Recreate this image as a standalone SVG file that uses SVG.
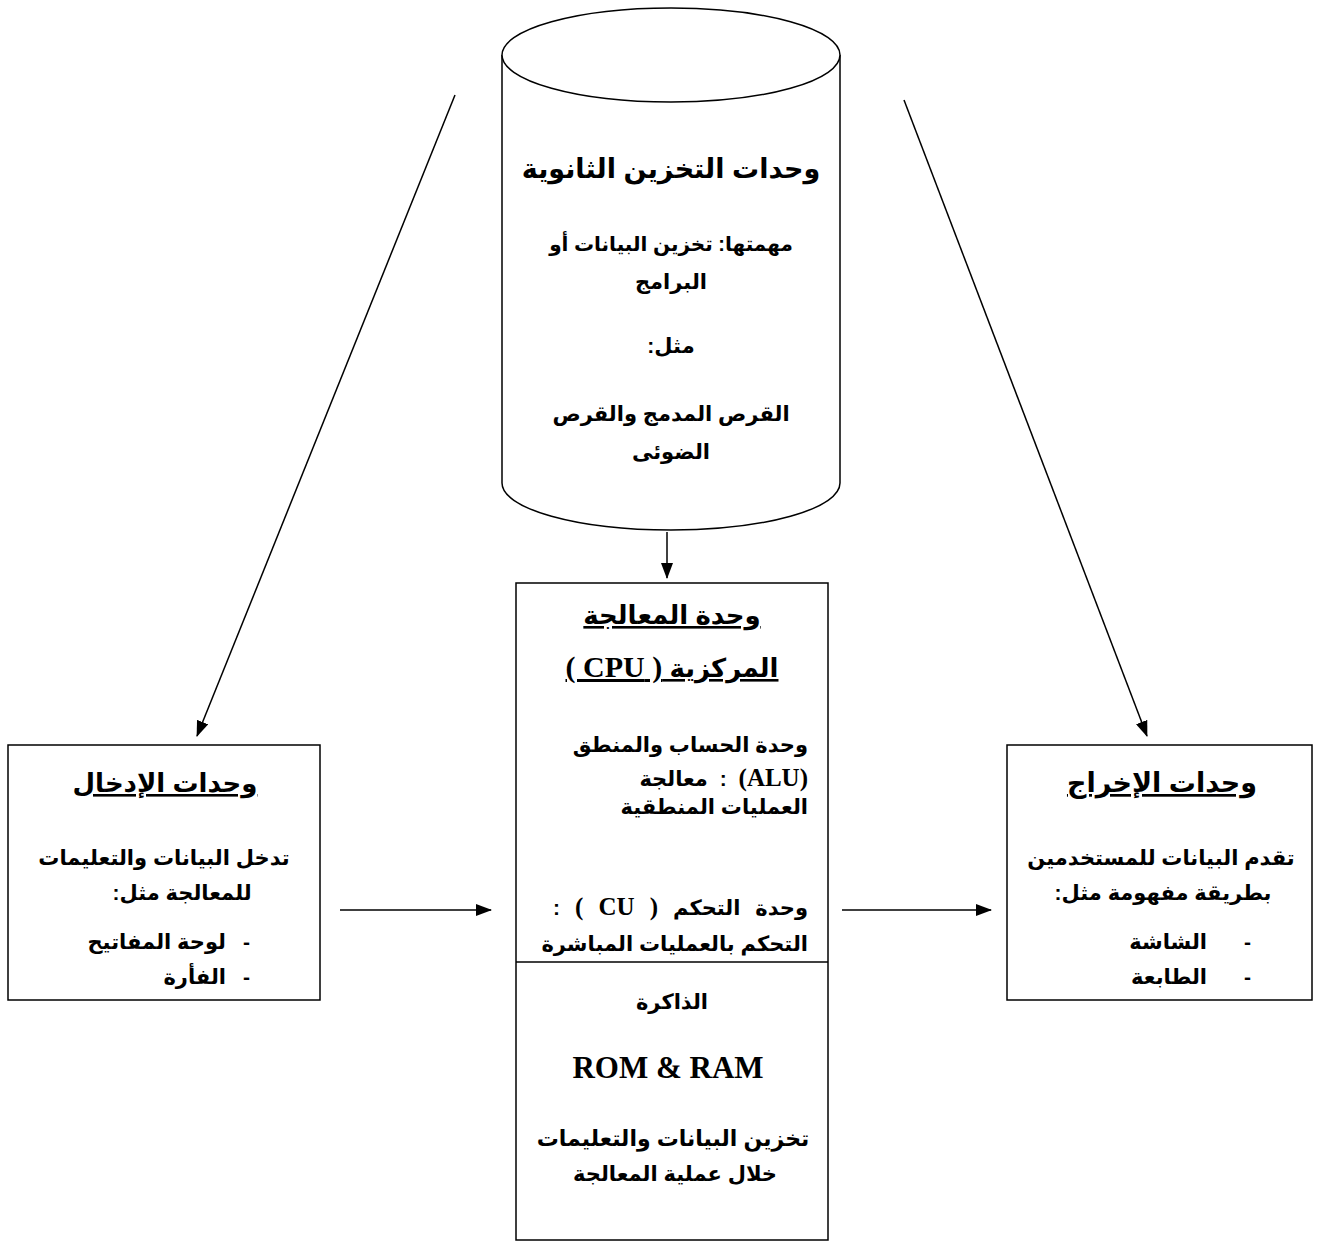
<svg xmlns="http://www.w3.org/2000/svg" width="1320" height="1244" viewBox="0 0 1320 1244">
<style>
.ar{font-family:"Liberation Sans","DejaVu Sans",sans-serif;font-weight:bold;fill:#000}
.t{font-size:26px}
.b{font-size:21px}
.lat{font-family:"Liberation Serif","DejaVu Serif",serif;font-weight:bold}
.sh{fill:#fff;stroke:#000;stroke-width:1.5}
.cn{stroke:#000;stroke-width:1.5;fill:none}
</style>
<defs>
<marker id="ah" markerWidth="16" markerHeight="12" refX="15" refY="6" orient="auto" markerUnits="userSpaceOnUse">
<path d="M0,0 L16,6 L0,12 Z" fill="#000"/>
</marker>
</defs>
<rect width="1320" height="1244" fill="#fff"/>
<g id="connectors">
<line class="cn" x1="455" y1="95" x2="197" y2="736" marker-end="url(#ah)"/>
<line class="cn" x1="904" y1="100" x2="1147" y2="736" marker-end="url(#ah)"/>
<line class="cn" x1="667" y1="532" x2="667" y2="578" marker-end="url(#ah)"/>
<line class="cn" x1="340" y1="910" x2="491" y2="910" marker-end="url(#ah)"/>
<line class="cn" x1="842" y1="910" x2="991" y2="910" marker-end="url(#ah)"/>
</g>
<g id="storage">
<path class="sh" d="M502,55 L502,483 A169,47 0 0 0 840,483 L840,55"/>
<ellipse class="sh" cx="671" cy="55" rx="169" ry="47"/>
<text class="ar" font-size="27" x="671" y="178" text-anchor="middle" direction="rtl">وحدات التخزين الثانوية</text>
<text class="ar" font-size="20" x="671" y="251" text-anchor="middle" direction="rtl">مهمتها: تخزين البيانات أو</text>
<text class="ar b" x="671" y="289" text-anchor="middle" direction="rtl">البرامج</text>
<text class="ar b" x="671" y="353" text-anchor="middle" direction="rtl">مثل:</text>
<text class="ar b" x="671" y="421" text-anchor="middle" direction="rtl">القرص المدمج والقرص</text>
<text class="ar b" x="671" y="459" text-anchor="middle" direction="rtl">الضوئى</text>
</g>
<g id="cpu">
<rect class="sh" x="516" y="583" width="312" height="657"/>
<line class="cn" x1="516" y1="962" x2="828" y2="962"/>
<text class="ar t" x="672" y="624" text-anchor="middle" direction="rtl" text-decoration="underline">وحدة المعالجة</text>
<text class="ar t" x="672" y="677" text-anchor="middle" direction="rtl" text-decoration="underline">المركزية <tspan class="lat" font-size="30">( CPU )</tspan></text>
<text class="ar b" x="808" y="752" direction="rtl" text-anchor="start">وحدة الحساب والمنطق</text>
<text class="ar b" x="808" y="786" direction="rtl" text-anchor="start" word-spacing="6"><tspan class="lat" font-size="25">(ALU)</tspan> : معالجة</text>
<text class="ar b" x="808" y="814" direction="rtl" text-anchor="start">العمليات المنطقية</text>
<text class="ar b" x="808" y="915" direction="rtl" text-anchor="start" word-spacing="9">وحدة التحكم <tspan class="lat" font-size="25">( CU )</tspan> :</text>
<text class="ar b" x="808" y="951" direction="rtl" text-anchor="start">التحكم بالعمليات المباشرة</text>
<text class="ar b" x="672" y="1009" text-anchor="middle" direction="rtl">الذاكرة</text>
<text class="lat" font-size="31" x="668" y="1078" text-anchor="middle">ROM &amp; RAM</text>
<text class="ar" font-size="22" x="673" y="1146" text-anchor="middle" direction="rtl">تخزين البيانات والتعليمات</text>
<text class="ar b" x="675" y="1181" text-anchor="middle" direction="rtl">خلال عملية المعالجة</text>
</g>
<g id="input">
<rect class="sh" x="8" y="745" width="312" height="255"/>
<text class="ar t" x="165" y="792" text-anchor="middle" direction="rtl" text-decoration="underline">وحدات الإدخال</text>
<text class="ar b" x="164" y="865" text-anchor="middle" direction="rtl">تدخل البيانات والتعليمات</text>
<text class="ar b" x="182" y="900" text-anchor="middle" direction="rtl">للمعالجة مثل:</text>
<text class="ar b" x="250" y="949" text-anchor="end">-</text>
<text class="ar b" x="226" y="949" direction="rtl" text-anchor="start">لوحة المفاتيح</text>
<text class="ar b" x="250" y="984" text-anchor="end">-</text>
<text class="ar b" x="226" y="984" direction="rtl" text-anchor="start">الفأرة</text>
</g>
<g id="output">
<rect class="sh" x="1007" y="745" width="305" height="255"/>
<text class="ar" font-size="27" x="1162" y="792" text-anchor="middle" direction="rtl" text-decoration="underline">وحدات الإخراج</text>
<text class="ar b" x="1161" y="865" text-anchor="middle" direction="rtl">تقدم البيانات للمستخدمين</text>
<text class="ar b" x="1163" y="900" text-anchor="middle" direction="rtl">بطريقة مفهومة مثل:</text>
<text class="ar b" x="1251" y="949" text-anchor="end">-</text>
<text class="ar b" x="1207" y="949" direction="rtl" text-anchor="start">الشاشة</text>
<text class="ar b" x="1251" y="984" text-anchor="end">-</text>
<text class="ar b" x="1207" y="984" direction="rtl" text-anchor="start">الطابعة</text>
</g>
</svg>
